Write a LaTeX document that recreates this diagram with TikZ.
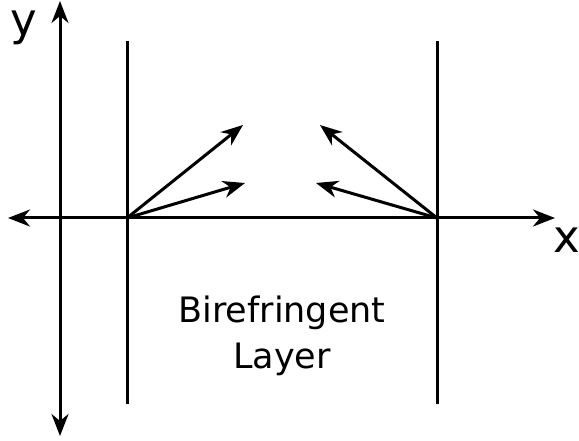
\documentclass[tikz,border=0pt]{standalone}
\usepackage{fontspec}
\setmainfont{DejaVu Sans}
\usetikzlibrary{arrows.meta,positioning}
\tikzset{
	axis/.style={{Stealth[length=22pt, width=17pt, inset=7pt]}-{Stealth[length=22pt, width=17pt, inset=7pt]}, line width=3pt},
	wall/.style={line width=3pt},
	ray/.style={-{Stealth[length=22pt, width=17pt, inset=7pt]}, line width=3pt},
	axlabel/.style={font=\fontsize{45}{48}\selectfont, inner sep=0pt, anchor=base},
	layertext/.style={font=\fontsize{35}{45}\selectfont, inner sep=0pt, anchor=base}
}

\begin{document}
\begin{tikzpicture}[x=1pt, y=-1pt]
	\useasboundingbox (0,0) rectangle (579,441);
	% axes
	\coordinate (ytop) at (60,1);
	\coordinate (ybot) at (60,436);
	\coordinate (xleft) at (8,218);
	\coordinate (xright) at (555,218);
	\draw[axis] (ybot) -- (ytop);
	\draw[axis] (xleft) -- (xright);
	\node[axlabel] (ylab) at (24,36) {y};
	\node[axlabel] (xlab) at (567,252) {x};
	% layer walls
	\coordinate (lefttop) at (127,41);
	\coordinate (leftbot) at (127,404);
	\coordinate (righttop) at (437,41);
	\coordinate (rightbot) at (437,404);
	\draw[wall] (lefttop) -- (leftbot);
	\draw[wall] (righttop) -- (rightbot);
	% rays
	\coordinate (lo) at (127,218);
	\coordinate (ro) at (437,218);
	\coordinate (lup) at (243,125);
	\coordinate (llow) at (245,183);
	\coordinate (rup) at (320,125);
	\coordinate (rlow) at (316,183);
	\draw[ray] (lo) -- (lup);
	\draw[ray] (lo) -- (llow);
	\draw[ray] (ro) -- (rup);
	\draw[ray] (ro) -- (rlow);
	% label inside the layer
	\node[layertext] (bire) at (282,323) {Birefringent};
	\node[layertext] (layer) at (282,368) {Layer};
\end{tikzpicture}
\end{document}
